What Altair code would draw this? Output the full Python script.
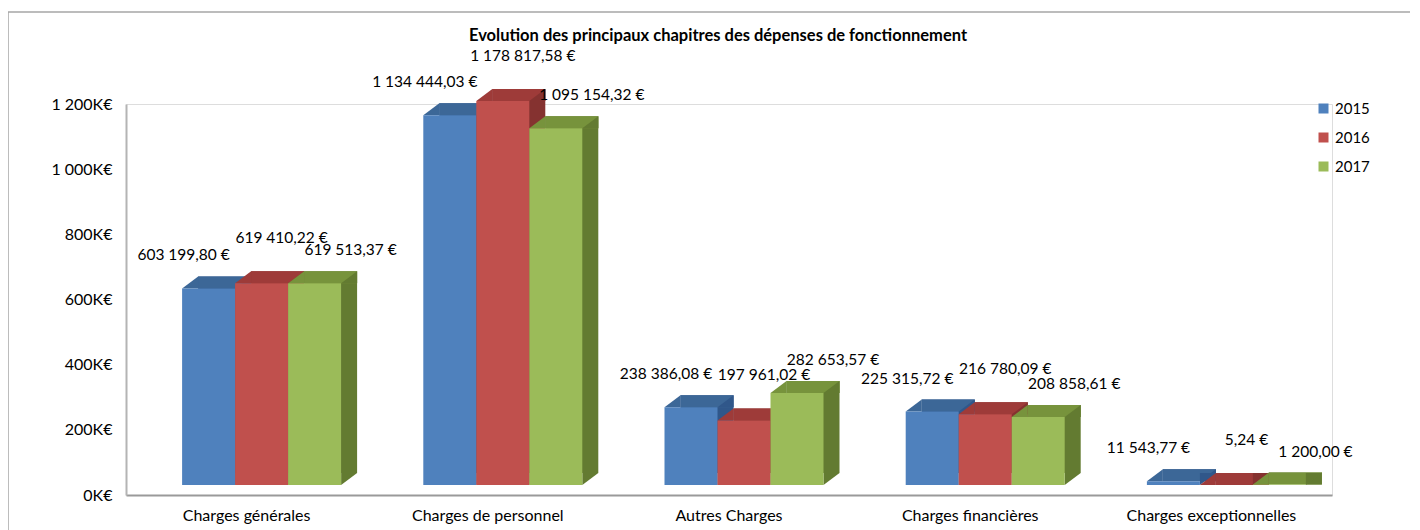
import altair as alt
import pandas as pd

categories = ["Charges générales", "Charges de personnel", "Autres Charges",
              "Charges financières", "Charges exceptionnelles"]
years = ["2015", "2016", "2017"]
v2015 = [603199.80, 1134444.03, 238386.08, 225315.72, 11543.77]
v2016 = [619410.22, 1178817.58, 197961.02, 216780.09, 5.24]
v2017 = [619513.37, 1095154.32, 282653.57, 208858.61, 1200.00]
y_ticks = [0, 200000, 400000, 600000, 800000, 1000000, 1200000]
title_text = "Evolution des principaux chapitres des dépenses de fonctionnement"

front_colors = ["#4f81bd", "#c0504d", "#9bbb59"]
top_colors = ["#3c6797", "#9e3b39", "#77933c"]
side_colors = ["#30578a", "#853230", "#637b31"]


def fr(v):
    return f"{v:,.2f}".replace(",", " ").replace(".", ",") + " €"


rows = []
for yr, vals in zip(years, [v2015, v2016, v2017]):
    for c, v in zip(categories, vals):
        rows.append({"category": c, "year": yr, "value": v, "label": fr(v), "zero": 0})
df = pd.DataFrame(rows)

FONT = "Lato"
W, H = 1206, 391
BAR = 53
offsets = [-38, 15, 68]
label_dx = [-25, 20, 36]
label_dy = [-43, -55, -43]
DX, DY = 16, -12          # depth of the pseudo-3D faces
LIFT = -10
TRI_SIZE = DX * DX        # custom symbol: [-1,1] box spans DX px
TRI_UPPER = "M-1,0.75L1,-0.75L1,0.75Z"
TRI_LOWER = "M-1,-0.75L1,-0.75L-1,0.75Z"

base = alt.Chart(df)

x_enc = alt.X("category:N", sort=categories,
              scale=alt.Scale(paddingInner=0, paddingOuter=0),
              axis=alt.Axis(title=None, labelAngle=0, ticks=False,
                            domainColor="#9a9a9a", domainWidth=2,
                            labelFontSize=16, labelFont=FONT, labelColor="#000000",
                            labelPadding=12))
y_scale = alt.Scale(domain=[0, 1200000], nice=False)
y_axis = alt.Axis(title=None, values=y_ticks, ticks=False, grid=False,
                  domainColor="#b4b4b4", domainWidth=2,
                  labelFontSize=16, labelFont=FONT, labelColor="#000000",
                  labelPadding=14,
                  labelExpr="replace(format(datum.value/1000, ',d'), ',', ' ') + 'K€'")


def y_of(field):
    return alt.Y(f"{field}:Q", scale=y_scale, axis=y_axis)


border = alt.Chart(pd.DataFrame({"a": [0]})).mark_rect(
    fill=None, stroke="#a6a6a6", strokeWidth=1.5
).encode(x=alt.value(-118), x2=alt.value(W + 200), y=alt.value(-92), y2=alt.value(H + 200))

title = alt.Chart(pd.DataFrame({"t": [title_text]})).mark_text(
    font=FONT, fontSize=16.5, fontWeight="bold", color="#000000",
    align="center", baseline="middle"
).encode(x=alt.value(592), y=alt.value(-68), text="t:N")

layers = [border, title]
for i, yr in enumerate(years):
    off = offsets[i]
    sub = base.transform_filter(alt.datum.year == yr)
    side = sub.mark_bar(size=BAR, color=side_colors[i], xOffset=off + DX,
                        yOffset=LIFT + DY, y2Offset=LIFT + DY).encode(
        x=x_enc, y=y_of("value"))
    top = sub.mark_bar(size=BAR, color=top_colors[i], xOffset=off + DX,
                       yOffset=LIFT + DY, y2Offset=LIFT).encode(
        x=x_enc, y=y_of("value"), y2="value:Q")
    tri_tl = sub.mark_point(shape=TRI_UPPER, size=TRI_SIZE, filled=True, opacity=1,
                            strokeWidth=0, color=top_colors[i],
                            xOffset=off - BAR / 2 + DX / 2, yOffset=LIFT + DY / 2).encode(
        x=x_enc, y=y_of("value"))
    tri_tr = sub.mark_point(shape=TRI_UPPER, size=TRI_SIZE, filled=True, opacity=1,
                            strokeWidth=0, color=side_colors[i],
                            xOffset=off + BAR / 2 + DX / 2, yOffset=LIFT + DY / 2).encode(
        x=x_enc, y=y_of("value"))
    tri_br = sub.mark_point(shape=TRI_LOWER, size=TRI_SIZE, filled=True, opacity=1,
                            strokeWidth=0, color=side_colors[i],
                            xOffset=off + BAR / 2 + DX / 2, yOffset=LIFT + DY / 2).encode(
        x=x_enc, y=y_of("zero"))
    front = sub.mark_bar(size=BAR, xOffset=off, yOffset=LIFT, y2Offset=LIFT).encode(
        x=x_enc, y=y_of("value"),
        color=alt.Color("year:N", scale=alt.Scale(domain=years, range=front_colors),
                        legend=alt.Legend(title=None, orient="none", legendX=1190,
                                          legendY=-3, symbolType="square",
                                          symbolSize=100, labelFontSize=15,
                                          labelFont=FONT, labelColor="#000000",
                                          rowPadding=13, symbolStrokeWidth=0)))
    layers += [side, top, tri_tl, tri_tr, tri_br, front]

for i, yr in enumerate(years):
    sub = base.transform_filter(alt.datum.year == yr)
    txt = sub.mark_text(font=FONT, fontSize=15.5, color="#000000", baseline="middle",
                        align="center", xOffset=offsets[i],
                        dx=label_dx[i], dy=label_dy[i]).encode(
        x=x_enc, y=y_of("value"), text="label:N")
    layers.append(txt)

chart = alt.layer(*layers).properties(
    width=W, height=H,
    padding={"left": 118, "top": 96, "right": 78, "bottom": 36},
    autosize=alt.AutoSizeParams(type="none"),
).configure_view(stroke=None).configure(background="white")

chart.save("out.html", embed_options={"renderer": "svg", "actions": False})
